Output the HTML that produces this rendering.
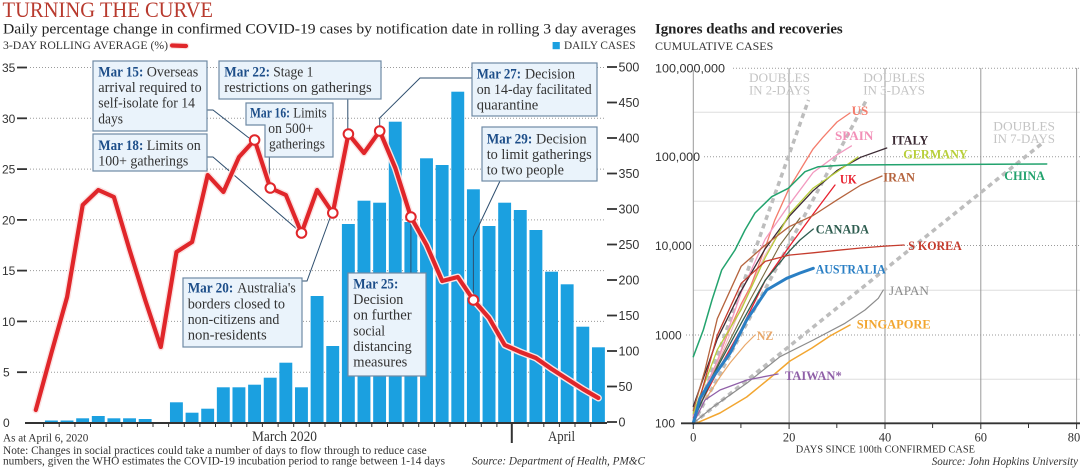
<!DOCTYPE html>
<html><head><meta charset="utf-8"><style>
html,body{margin:0;padding:0;background:#fff;}
svg{display:block;}
.s{font-family:"Liberation Serif",serif;}
.n{font-family:"Liberation Sans",sans-serif;}
</style></head><body>
<svg width="1080" height="469" viewBox="0 0 1080 469" xmlns="http://www.w3.org/2000/svg">
<rect width="1080" height="469" fill="#fff"/>

<!-- ===== LEFT CHART ===== -->
<text class="s" x="2.5" y="17" font-size="22" fill="#b83a2e" textLength="210.5" lengthAdjust="spacingAndGlyphs">TURNING THE CURVE</text>
<text class="s" x="3" y="33.5" font-size="14.5" fill="#222" textLength="633" lengthAdjust="spacingAndGlyphs">Daily percentage change in confirmed COVID-19 cases by notification date in rolling 3 day averages</text>
<text class="s" x="3" y="49" font-size="11.5" fill="#333" textLength="165" lengthAdjust="spacingAndGlyphs">3-DAY ROLLING AVERAGE (%)</text>
<line x1="172" y1="45.5" x2="186" y2="46" stroke="#fbe3e3" stroke-width="6.5" stroke-linecap="round"/>
<line x1="172" y1="45.5" x2="186" y2="46" stroke="#e0262a" stroke-width="4.2" stroke-linecap="round"/>
<rect x="552.6" y="42" width="7.2" height="7.2" fill="#1ba0e0"/>
<text class="s" x="564" y="49" font-size="11.5" fill="#333" textLength="71.5" lengthAdjust="spacingAndGlyphs">DAILY CASES</text>

<!-- grid -->
<g stroke="#9a9a9a" stroke-width="1" stroke-dasharray="1 2">
<line x1="30" y1="67.5" x2="605" y2="67.5"/>
<line x1="30" y1="118.3" x2="605" y2="118.3"/>
<line x1="30" y1="169.1" x2="605" y2="169.1"/>
<line x1="30" y1="219.9" x2="605" y2="219.9"/>
<line x1="30" y1="270.6" x2="605" y2="270.6"/>
<line x1="30" y1="321.4" x2="605" y2="321.4"/>
<line x1="30" y1="372.2" x2="605" y2="372.2"/>
</g>
<!-- left axis -->
<g class="n" font-size="12" fill="#333">
<text x="2" y="72">35</text><text x="2" y="122.8">30</text><text x="2" y="173.6">25</text>
<text x="2" y="224.4">20</text><text x="2" y="275.1">15</text><text x="2" y="325.9">10</text>
<text x="3" y="376.7">5</text><text x="3" y="427">0</text>
</g>
<g stroke="#333" stroke-width="1.8">
<line x1="17" y1="67.5" x2="27" y2="67.5"/><line x1="17" y1="118.3" x2="27" y2="118.3"/>
<line x1="17" y1="169.1" x2="27" y2="169.1"/><line x1="17" y1="219.9" x2="27" y2="219.9"/>
<line x1="17" y1="270.6" x2="27" y2="270.6"/><line x1="17" y1="321.4" x2="27" y2="321.4"/>
<line x1="17" y1="372.2" x2="27" y2="372.2"/>
</g>
<!-- right axis -->
<g stroke="#333" stroke-width="1.8">
<line x1="607" y1="67" x2="617" y2="67"/><line x1="607" y1="102.5" x2="617" y2="102.5"/>
<line x1="607" y1="138" x2="617" y2="138"/><line x1="607" y1="173.5" x2="617" y2="173.5"/>
<line x1="607" y1="209" x2="617" y2="209"/><line x1="607" y1="244.5" x2="617" y2="244.5"/>
<line x1="607" y1="280" x2="617" y2="280"/><line x1="607" y1="315.5" x2="617" y2="315.5"/>
<line x1="607" y1="351" x2="617" y2="351"/><line x1="607" y1="386.5" x2="617" y2="386.5"/>
<line x1="607" y1="422" x2="617" y2="422"/>
</g>
<g class="n" font-size="12.5" fill="#333">
<text x="618.5" y="71.5">500</text><text x="618.5" y="107">450</text><text x="618.5" y="142.5">400</text>
<text x="618.5" y="178">350</text><text x="618.5" y="213.5">300</text><text x="618.5" y="249">250</text>
<text x="618.5" y="284.5">200</text><text x="618.5" y="320">150</text><text x="618.5" y="355.5">100</text>
<text x="618.5" y="391">50</text><text x="618.5" y="426.5">0</text>
</g>

<!-- bars -->
<g fill="#1ba0e0">
<rect x="44.93" y="420.5" width="12.9" height="2.5"/>
<rect x="60.56" y="420.5" width="12.9" height="2.5"/>
<rect x="76.19" y="418.3" width="12.9" height="4.7"/>
<rect x="91.82" y="416" width="12.9" height="7"/>
<rect x="107.45" y="418.3" width="12.9" height="4.7"/>
<rect x="123.08" y="418.3" width="12.9" height="4.7"/>
<rect x="138.71" y="419" width="12.9" height="4"/>
<rect x="169.97" y="402.3" width="12.9" height="20.7"/>
<rect x="185.6" y="412.7" width="12.9" height="10.3"/>
<rect x="201.23" y="408.7" width="12.9" height="14.3"/>
<rect x="216.86" y="387.3" width="12.9" height="35.7"/>
<rect x="232.49" y="387.3" width="12.9" height="35.7"/>
<rect x="248.12" y="384.7" width="12.9" height="38.3"/>
<rect x="263.75" y="377.7" width="12.9" height="45.3"/>
<rect x="279.38" y="362.7" width="12.9" height="60.3"/>
<rect x="295.01" y="387.3" width="12.9" height="35.7"/>
<rect x="310.64" y="296" width="12.9" height="127"/>
<rect x="326.27" y="346" width="12.9" height="77"/>
<rect x="341.9" y="224" width="12.9" height="199"/>
<rect x="357.53" y="200.7" width="12.9" height="222.3"/>
<rect x="373.16" y="202.7" width="12.9" height="220.3"/>
<rect x="388.79" y="121.7" width="12.9" height="301.3"/>
<rect x="404.42" y="222" width="12.9" height="201"/>
<rect x="420.05" y="158.3" width="12.9" height="264.7"/>
<rect x="435.68" y="165" width="12.9" height="258"/>
<rect x="451.31" y="91.7" width="12.9" height="331.3"/>
<rect x="466.94" y="189.3" width="12.9" height="233.7"/>
<rect x="482.57" y="226" width="12.9" height="197"/>
<rect x="498.2" y="202.7" width="12.9" height="220.3"/>
<rect x="513.83" y="210" width="12.9" height="213"/>
<rect x="529.46" y="230" width="12.9" height="193"/>
<rect x="545.09" y="271.7" width="12.9" height="151.3"/>
<rect x="560.72" y="284.3" width="12.9" height="138.7"/>
<rect x="576.35" y="326.7" width="12.9" height="96.3"/>
<rect x="591.98" y="347.3" width="12.9" height="75.7"/>
</g>

<!-- x axis -->
<line x1="25" y1="423" x2="607" y2="423" stroke="#333" stroke-width="2"/>
<g stroke="#333" stroke-width="1">
<line x1="43.6" y1="423" x2="43.6" y2="427"/><line x1="59.2" y1="423" x2="59.2" y2="427"/>
<line x1="74.9" y1="423" x2="74.9" y2="427"/><line x1="90.5" y1="423" x2="90.5" y2="427"/>
<line x1="106.1" y1="423" x2="106.1" y2="427"/><line x1="121.8" y1="423" x2="121.8" y2="427"/>
<line x1="137.4" y1="423" x2="137.4" y2="427"/><line x1="153" y1="423" x2="153" y2="427"/>
<line x1="168.6" y1="423" x2="168.6" y2="427"/><line x1="184.3" y1="423" x2="184.3" y2="427"/>
<line x1="199.9" y1="423" x2="199.9" y2="427"/><line x1="215.5" y1="423" x2="215.5" y2="427"/>
<line x1="231.2" y1="423" x2="231.2" y2="427"/><line x1="246.8" y1="423" x2="246.8" y2="427"/>
<line x1="262.4" y1="423" x2="262.4" y2="427"/><line x1="278.1" y1="423" x2="278.1" y2="427"/>
<line x1="293.7" y1="423" x2="293.7" y2="427"/><line x1="309.3" y1="423" x2="309.3" y2="427"/>
<line x1="325" y1="423" x2="325" y2="427"/><line x1="340.6" y1="423" x2="340.6" y2="427"/>
<line x1="356.2" y1="423" x2="356.2" y2="427"/><line x1="371.8" y1="423" x2="371.8" y2="427"/>
<line x1="387.5" y1="423" x2="387.5" y2="427"/><line x1="403.1" y1="423" x2="403.1" y2="427"/>
<line x1="418.7" y1="423" x2="418.7" y2="427"/><line x1="434.4" y1="423" x2="434.4" y2="427"/>
<line x1="450" y1="423" x2="450" y2="427"/><line x1="465.6" y1="423" x2="465.6" y2="427"/>
<line x1="481.3" y1="423" x2="481.3" y2="427"/><line x1="496.9" y1="423" x2="496.9" y2="427"/>
<line x1="528.1" y1="423" x2="528.1" y2="427"/><line x1="543.8" y1="423" x2="543.8" y2="427"/>
<line x1="559.4" y1="423" x2="559.4" y2="427"/><line x1="575" y1="423" x2="575" y2="427"/>
<line x1="590.7" y1="423" x2="590.7" y2="427"/>
</g>
<line x1="511.8" y1="423" x2="511.8" y2="443" stroke="#333" stroke-width="2"/>
<text class="s" x="252" y="441" font-size="15" fill="#333" textLength="65" lengthAdjust="spacingAndGlyphs">March 2020</text>
<text class="s" x="548" y="441" font-size="15" fill="#333" textLength="27" lengthAdjust="spacingAndGlyphs">April</text>
<text class="s" x="3" y="441.7" font-size="11.5" fill="#333" textLength="85.3" lengthAdjust="spacingAndGlyphs">As at April 6, 2020</text>
<text class="s" x="3" y="454" font-size="11.5" fill="#333" textLength="423.7" lengthAdjust="spacingAndGlyphs">Note: Changes in social practices could take a number of days to flow through to reduce case</text>
<text class="s" x="3" y="464.5" font-size="11.5" fill="#333" textLength="442" lengthAdjust="spacingAndGlyphs">numbers, given the WHO estimates the COVID-19 incubation period to range between 1-14 days</text>
<text class="s" x="471.7" y="464.5" font-size="11.5" font-style="italic" fill="#333" textLength="173.3" lengthAdjust="spacingAndGlyphs">Source: Department of Health, PM&amp;C</text>

<!-- leader lines -->
<g fill="none" stroke="#2f4f6f" stroke-width="1">
<polyline points="207,110 213,110 249,138"/>
<polyline points="207,157 213,157 298,230"/>
<polyline points="269.3,157 269.3,184"/>
<polyline points="347.8,99 347.8,130"/>
<polyline points="472,78 420,78 379.7,118 379.7,127"/>
<polyline points="302,281 307,281 330,218"/>
<polyline points="410.9,222 410.9,273"/>
<polyline points="473.4,295 473.4,237 500,181"/>
</g>

<!-- red line -->
<polyline fill="none" stroke="#fbe3e3" stroke-width="7" stroke-linejoin="round" stroke-linecap="round" points="35.8,410 51.4,353 67.1,297 82.7,205 98.3,190 113.9,197 129.6,250 145.2,300 160.8,347 176.5,252 192.1,242 207.7,175 223.4,192 239,157 254.6,140 270.3,188 285.9,195 301.5,233 317.1,190 332.8,213 348.4,134 364,153 379.7,131 395.3,168 410.9,217 426.6,245 442.2,281 457.8,277 473.4,300 489.1,318 504.7,345 520.3,352 535.9,358 551.6,369 567.2,379 582.8,389 598.4,398"/>
<polyline fill="none" stroke="#e0262a" stroke-width="4.2" stroke-linejoin="round" stroke-linecap="round" points="35.8,410 51.4,353 67.1,297 82.7,205 98.3,190 113.9,197 129.6,250 145.2,300 160.8,347 176.5,252 192.1,242 207.7,175 223.4,192 239,157 254.6,140 270.3,188 285.9,195 301.5,233 317.1,190 332.8,213 348.4,134 364,153 379.7,131 395.3,168 410.9,217 426.6,245 442.2,281 457.8,277 473.4,300 489.1,318 504.7,345 520.3,352 535.9,358 551.6,369 567.2,379 582.8,389 598.4,398"/>
<g fill="#fff" stroke="#e0262a" stroke-width="2">
<circle cx="254.6" cy="140" r="4.8"/><circle cx="270.3" cy="188" r="4.8"/>
<circle cx="301.5" cy="233" r="4.8"/><circle cx="332.8" cy="213" r="4.8"/>
<circle cx="348.4" cy="134" r="4.8"/><circle cx="379.7" cy="131" r="4.8"/>
<circle cx="410.9" cy="217" r="4.8"/><circle cx="473.4" cy="300" r="4.8"/>
</g>

<!-- annotation boxes -->
<g fill="#eaf3fb" stroke="#6f8aa5" stroke-width="1.2">
<rect x="93" y="61" width="114" height="70"/>
<rect x="93" y="134" width="114" height="37"/>
<rect x="219" y="61" width="162" height="38"/>
<path d="M246,103 H333 V157 H265 V125 H246 Z"/>
<rect x="183" y="278" width="119" height="69"/>
<rect x="348" y="273" width="78" height="103"/>
<rect x="472" y="63" width="125" height="53"/>
<rect x="482" y="127" width="115" height="54"/>
</g>
<g class="s" font-size="15" fill="#333">
<text x="98.3" y="76.5" font-weight="bold" fill="#1d4e89" textLength="45" lengthAdjust="spacingAndGlyphs">Mar 15:</text>
<text x="146.7" y="76.5" textLength="51.6" lengthAdjust="spacingAndGlyphs">Overseas</text>
<text x="98.3" y="92" textLength="103.4" lengthAdjust="spacingAndGlyphs">arrival required to</text>
<text x="98.3" y="107.7" textLength="96.7" lengthAdjust="spacingAndGlyphs">self-isolate for 14</text>
<text x="98.3" y="123.3" textLength="24.7" lengthAdjust="spacingAndGlyphs">days</text>

<text x="98.3" y="150" font-weight="bold" fill="#1d4e89" textLength="45" lengthAdjust="spacingAndGlyphs">Mar 18:</text>
<text x="146.7" y="150" textLength="54" lengthAdjust="spacingAndGlyphs">Limits on</text>
<text x="98.3" y="165.5" textLength="90" lengthAdjust="spacingAndGlyphs">100+ gatherings</text>

<text x="224.3" y="76.5" font-weight="bold" fill="#1d4e89" textLength="45.7" lengthAdjust="spacingAndGlyphs">Mar 22:</text>
<text x="273.3" y="76.5" textLength="40" lengthAdjust="spacingAndGlyphs">Stage 1</text>
<text x="224.3" y="92" textLength="147.4" lengthAdjust="spacingAndGlyphs">restrictions on gatherings</text>

<text x="250" y="117.5" font-weight="bold" fill="#1d4e89" textLength="40" lengthAdjust="spacingAndGlyphs">Mar 16:</text>
<text x="293.3" y="117.5" textLength="33.4" lengthAdjust="spacingAndGlyphs">Limits</text>
<text x="268.3" y="133" textLength="45" lengthAdjust="spacingAndGlyphs">on 500+</text>
<text x="269" y="148.5" textLength="56" lengthAdjust="spacingAndGlyphs">gatherings</text>

<text x="187.7" y="292.7" font-weight="bold" fill="#1d4e89" textLength="45.6" lengthAdjust="spacingAndGlyphs">Mar 20:</text>
<text x="237.3" y="292.7" textLength="58.4" lengthAdjust="spacingAndGlyphs">Australia's</text>
<text x="187.7" y="308.3" textLength="97.3" lengthAdjust="spacingAndGlyphs">borders closed to</text>
<text x="187.7" y="324" textLength="91.6" lengthAdjust="spacingAndGlyphs">non-citizens and</text>
<text x="187.7" y="339.7" textLength="79" lengthAdjust="spacingAndGlyphs">non-residents</text>

<text x="353.3" y="288.3" font-weight="bold" fill="#1d4e89" textLength="45" lengthAdjust="spacingAndGlyphs">Mar 25:</text>
<text x="353.3" y="304" textLength="50" lengthAdjust="spacingAndGlyphs">Decision</text>
<text x="353.3" y="319.7" textLength="58.4" lengthAdjust="spacingAndGlyphs">on further</text>
<text x="353.3" y="335.3" textLength="31.7" lengthAdjust="spacingAndGlyphs">social</text>
<text x="353.3" y="351" textLength="58.4" lengthAdjust="spacingAndGlyphs">distancing</text>
<text x="353.3" y="366.7" textLength="54" lengthAdjust="spacingAndGlyphs">measures</text>

<text x="476.7" y="78.3" font-weight="bold" fill="#1d4e89" textLength="44.3" lengthAdjust="spacingAndGlyphs">Mar 27:</text>
<text x="525" y="78.3" textLength="50" lengthAdjust="spacingAndGlyphs">Decision</text>
<text x="476.7" y="94" textLength="115" lengthAdjust="spacingAndGlyphs">on 14-day facilitated</text>
<text x="476.7" y="109.7" textLength="61.6" lengthAdjust="spacingAndGlyphs">quarantine</text>

<text x="486.7" y="143.3" font-weight="bold" fill="#1d4e89" textLength="45.6" lengthAdjust="spacingAndGlyphs">Mar 29:</text>
<text x="536" y="143.3" textLength="50.7" lengthAdjust="spacingAndGlyphs">Decision</text>
<text x="486.7" y="159" textLength="105" lengthAdjust="spacingAndGlyphs">to limit gatherings</text>
<text x="486.7" y="174.7" textLength="77.3" lengthAdjust="spacingAndGlyphs">to two people</text>
</g>

<!-- ===== RIGHT CHART ===== -->
<text class="s" x="655" y="33.3" font-size="15" font-weight="bold" fill="#222" textLength="187.7" lengthAdjust="spacingAndGlyphs">Ignores deaths and recoveries</text>
<text class="s" x="655" y="50" font-size="11.5" fill="#333" textLength="118.3" lengthAdjust="spacingAndGlyphs">CUMULATIVE CASES</text>

<!-- half-decade light lines -->
<g stroke="#dedede" stroke-width="1">
<line x1="693" y1="112.2" x2="1080" y2="112.2"/><line x1="693" y1="201.2" x2="1080" y2="201.2"/>
<line x1="693" y1="290.2" x2="1080" y2="290.2"/><line x1="693" y1="379.2" x2="1080" y2="379.2"/>
</g>
<g stroke="#9a9a9a" stroke-width="1" stroke-dasharray="1 2">
<line x1="733" y1="68.3" x2="1080" y2="68.3"/>
<line x1="704" y1="156.7" x2="1080" y2="156.7"/>
<line x1="700" y1="245.5" x2="1080" y2="245.5"/>
<line x1="686" y1="335" x2="1080" y2="335"/>
</g>
<g stroke="#9a9a9a" stroke-width="1">
<line x1="693.3" y1="70" x2="693.3" y2="423"/>
<line x1="789.1" y1="68" x2="789.1" y2="423"/>
<line x1="885" y1="68" x2="885" y2="423"/>
<line x1="980.8" y1="68" x2="980.8" y2="423"/>
<line x1="1076.6" y1="68" x2="1076.6" y2="423"/>
</g>
<g class="n" font-size="12" fill="#333">
<text x="655" y="72.5" textLength="70" lengthAdjust="spacingAndGlyphs">100,000,000</text>
<text x="655" y="161" textLength="45" lengthAdjust="spacingAndGlyphs">100,000</text>
<text x="655" y="250" textLength="36.7" lengthAdjust="spacingAndGlyphs">10,000</text>
<text x="655" y="339.3" textLength="26.7" lengthAdjust="spacingAndGlyphs">1000</text>
<text x="655" y="427.5" textLength="20" lengthAdjust="spacingAndGlyphs">100</text>
</g>

<!-- doubling lines -->
<g fill="none" stroke="#bdbdbd" stroke-width="3.5" stroke-dasharray="5 4">
<line x1="693.3" y1="423.3" x2="808.5" y2="100"/>
<line x1="693.3" y1="423.3" x2="867.5" y2="98"/>
<line x1="693.3" y1="423.3" x2="1042.5" y2="143"/>
</g>
<g class="s" font-size="12.5" fill="#c4c4c4">
<text x="749" y="82" textLength="61" lengthAdjust="spacingAndGlyphs">DOUBLES</text>
<text x="749" y="94.3" textLength="61" lengthAdjust="spacingAndGlyphs">IN 2-DAYS</text>
<text x="863.3" y="82" textLength="61.7" lengthAdjust="spacingAndGlyphs">DOUBLES</text>
<text x="863.3" y="94.3" textLength="61.7" lengthAdjust="spacingAndGlyphs">IN 3-DAYS</text>
<text x="993.3" y="130.7" textLength="61.7" lengthAdjust="spacingAndGlyphs">DOUBLES</text>
<text x="993.3" y="142.9" textLength="61.7" lengthAdjust="spacingAndGlyphs">IN 7-DAYS</text>
</g>

<!-- country curves -->
<g fill="none" stroke-linejoin="round" stroke-linecap="round">
<polyline stroke="#f3b7c8" stroke-width="1.1" points="693.3,418 715,370 740,310 765,255 790,215 800,205"/>
<polyline stroke="#7a6a40" stroke-width="1.1" points="693.3,415 720,360 750,300 780,245 800,218"/>
<polyline stroke="#f47c6c" stroke-width="1.3" points="693.3,423.3 702.9,393.4 717.3,361.1 726.8,335.9 741.2,303.9 750.8,285.9 765.2,247.7 774.7,220.3 789.1,188.3 798.7,172.5 813.1,148.9 822.6,137.7 837,122 850,113"/>
<polyline stroke="#f29ac0" stroke-width="1.3" points="693.3,416.3 717.3,361.1 741.2,292.5 765.2,239.1 789.1,204.7 813.1,172.5 837,154.8 851.4,145.9"/>
<polyline stroke="#3b2a33" stroke-width="1.3" points="693.3,406.4 717.3,338.9 741.2,290.7 765.2,248.7 789.1,216.4 813.1,190.7 837,170.6 860.9,157.2 886.7,148"/>
<polyline stroke="#b8cf3a" stroke-width="1.3" points="693.3,413.2 717.3,349.8 741.2,309.5 765.2,257.6 789.1,214.4 813.1,188.1 837,171.8 858,157"/>
<polyline stroke="#e8202e" stroke-width="1.3" points="693.3,417.9 717.3,371.7 741.2,329.2 765.2,280.5 789.1,246.7 813.1,214.1 835,185"/>
<polyline stroke="#b5643e" stroke-width="1.3" points="693.3,410.6 705,370 717.3,318.7 741.2,266.2 765.2,245.1 789.1,226.7 813.1,215.5 837,199.9 860.9,185 882,176"/>
<polyline stroke="#2e5d50" stroke-width="1.3" points="693.3,420.4 717.3,367.5 741.2,323.3 765.2,280.3 789.1,251.4 800,240 813.3,229"/>
<polyline stroke="#c53c2e" stroke-width="1.3" points="693.3,421.8 717.3,335.2 741.2,283.4 765.2,261.4 789.1,255.1 813.1,252.8 837,250.3 860.9,248 884.9,246.1 904,245"/>
<polyline stroke="#8c8c8c" stroke-width="1.2" points="693.3,423.3 713.3,406.7 746.7,383.3 780,356.7 813.3,340 845,323.3 865,310 878.3,298.3 883.3,290"/>
<polyline stroke="#f2a631" stroke-width="1.5" points="696,423.3 720,413 746.7,397 770,378 790,361 812,348 830,336 850,325"/>
<polyline stroke="#e9a86a" stroke-width="1.2" points="693.3,423.3 705,400 720,377 730,363 745,345 755,335"/>
<polyline stroke="#9060a8" stroke-width="1.3" points="693.3,423.3 705,400 720,390 747,380 778,374"/>
<polyline stroke="#23a36e" stroke-width="1.5" points="693.3,356.7 703.3,330 712,300 721.7,270 735,250 745,230 755,213 771.7,196.7 788.3,188.3 796.7,180 805,171.7 818.3,166.7 845,165 1046.7,164"/>
<polyline stroke="#2a7fc4" stroke-width="3" points="693.3,423.3 700,398.3 713.3,376.7 730,353.3 746.7,320 766.7,290 786.7,278.3 800,273 813.3,268.3"/>
</g>
<g class="s" font-size="12.5" font-weight="bold">
<text x="851.7" y="115" fill="#f47c6c" textLength="16.6" lengthAdjust="spacingAndGlyphs">US</text>
<text x="835" y="140" fill="#f290b8" textLength="38.3" lengthAdjust="spacingAndGlyphs">SPAIN</text>
<text x="891.7" y="144.3" fill="#3b2a33" textLength="36.6" lengthAdjust="spacingAndGlyphs">ITALY</text>
<text x="903.3" y="158.3" fill="#b8cf3a" textLength="64.4" lengthAdjust="spacingAndGlyphs">GERMANY</text>
<text x="1004.3" y="180" fill="#23a36e" textLength="40.7" lengthAdjust="spacingAndGlyphs">CHINA</text>
<text x="840" y="183.3" fill="#e8202e" textLength="16.7" lengthAdjust="spacingAndGlyphs">UK</text>
<text x="883.3" y="181.7" fill="#b5643e" textLength="31.7" lengthAdjust="spacingAndGlyphs">IRAN</text>
<text x="815.7" y="233.3" fill="#2e5d50" textLength="53.3" lengthAdjust="spacingAndGlyphs">CANADA</text>
<text x="908.3" y="250" fill="#c53c2e" textLength="53.4" lengthAdjust="spacingAndGlyphs">S KOREA</text>
<text x="815.7" y="273.3" fill="#2a7fc4" textLength="70" lengthAdjust="spacingAndGlyphs">AUSTRALIA</text>
<text x="889" y="295" fill="#8c8c8c" font-weight="normal" textLength="40" lengthAdjust="spacingAndGlyphs">JAPAN</text>
<text x="856.7" y="328.3" fill="#f2a631" textLength="74" lengthAdjust="spacingAndGlyphs">SINGAPORE</text>
<text x="756.7" y="340" fill="#e9a86a" textLength="16.6" lengthAdjust="spacingAndGlyphs">NZ</text>
<text x="785" y="380" fill="#9060a8" textLength="56.7" lengthAdjust="spacingAndGlyphs">TAIWAN*</text>
</g>

<!-- right x axis -->
<line x1="681" y1="423.3" x2="1080" y2="423.3" stroke="#333" stroke-width="1.8"/>
<g stroke="#333" stroke-width="1">
<line x1="693.3" y1="423" x2="693.3" y2="429"/><line x1="740.9" y1="423" x2="740.9" y2="428"/>
<line x1="789.1" y1="423" x2="789.1" y2="429"/><line x1="836.8" y1="423" x2="836.8" y2="428"/>
<line x1="885" y1="423" x2="885" y2="429"/><line x1="932.6" y1="423" x2="932.6" y2="428"/>
<line x1="980.8" y1="423" x2="980.8" y2="429"/><line x1="1028.5" y1="423" x2="1028.5" y2="428"/>
<line x1="1076.6" y1="423" x2="1076.6" y2="429"/>
</g>
<g class="s" font-size="12.5" fill="#333" text-anchor="middle">
<text x="693.3" y="441.7">0</text><text x="789.1" y="441.7">20</text><text x="885" y="441.7">40</text>
<text x="980.8" y="441.7">60</text><text x="1074" y="441.7">80</text>
</g>
<text class="s" x="795.7" y="452.7" font-size="10.5" fill="#333" textLength="179.3" lengthAdjust="spacingAndGlyphs">DAYS SINCE 100th CONFIRMED CASE</text>
<text class="s" x="931.7" y="465" font-size="11.5" font-style="italic" fill="#333" textLength="146.3" lengthAdjust="spacingAndGlyphs">Source: John Hopkins University</text>
</svg>
</body></html>
